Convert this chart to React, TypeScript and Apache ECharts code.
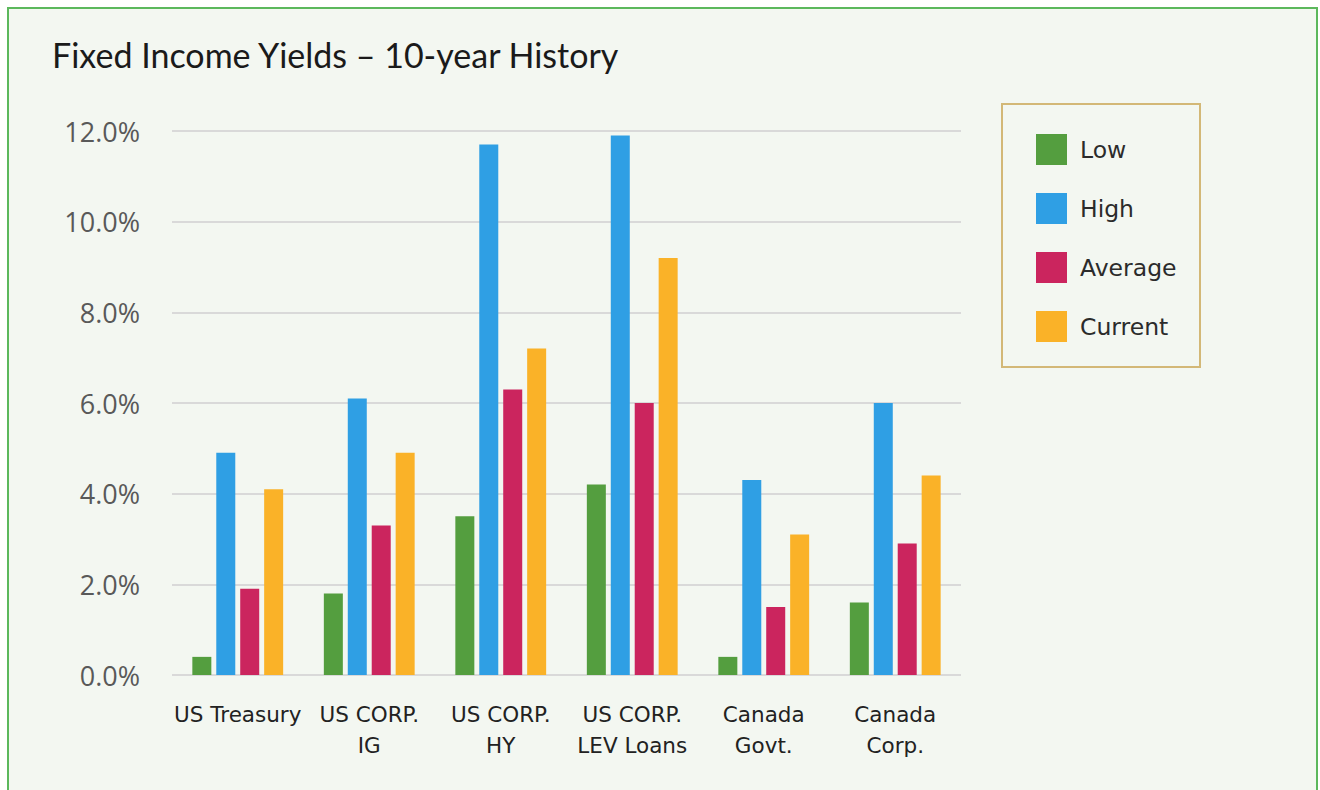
import React, { useEffect, useRef } from "react";
import * as echarts from "echarts";

const categories = [
  "US Treasury",
  "US CORP.\nIG",
  "US CORP.\nHY",
  "US CORP.\nLEV Loans",
  "Canada\nGovt.",
  "Canada\nCorp.",
];
const seriesNames = ["Low", "High", "Average", "Current"];
const lowValues = [0.4, 1.8, 3.5, 4.2, 0.4, 1.6];
const highValues = [4.9, 6.1, 11.7, 11.9, 4.3, 6.0];
const averageValues = [1.9, 3.3, 6.3, 6.0, 1.5, 2.9];
const currentValues = [4.1, 4.9, 7.2, 9.2, 3.1, 4.4];
const yTicks = { min: 0, max: 12, interval: 2 };
const colors = ["#549e3f", "#2f9fe4", "#cb255e", "#fab228"];
const titleText = "Fixed Income Yields \u2013 10-year History";

export default function App() {
  const ref = useRef<HTMLDivElement>(null);
  useEffect(() => {
    if (!ref.current) return;
    const chart = echarts.init(ref.current, undefined, { renderer: "svg" });
    const values = [lowValues, highValues, averageValues, currentValues];
    chart.setOption({
      animation: false,
      backgroundColor: "transparent",
      title: {
        text: titleText,
        left: 47,
        top: 32,
        textStyle: {
          fontFamily: "Lato",
          fontSize: 34,
          fontWeight: "normal",
          color: "#1a1a1a",
        },
      },
      legend: {
        orient: "vertical",
        left: 1031,
        top: 129,
        itemWidth: 31,
        itemHeight: 31,
        itemGap: 28,
        icon: "rect",
        data: seriesNames,
        textStyle: {
          fontFamily: "DejaVu Sans",
          fontSize: 23.5,
          color: "#2b2b2b",
          padding: [0, 0, 0, 8],
        },
      },
      graphic: [
        {
          type: "rect",
          shape: { x: 1002, y: 104, width: 198, height: 263 },
          style: { fill: "none", stroke: "#d3b877", lineWidth: 2 },
          z: 0,
        },
      ],
      grid: { left: 172, right: 359, top: 131, bottom: 115, containLabel: false },
      xAxis: {
        type: "category",
        data: categories,
        axisLine: { show: false },
        axisTick: { show: false },
        axisLabel: {
          interval: 0,
          margin: 24,
          fontFamily: "DejaVu Sans",
          fontSize: 21.5,
          lineHeight: 31,
          color: "#222222",
        },
      },
      yAxis: {
        type: "value",
        min: yTicks.min,
        max: yTicks.max,
        interval: yTicks.interval,
        axisLine: { show: false },
        axisTick: { show: false },
        splitLine: { lineStyle: { color: "#d9d9d9", width: 2 } },
        axisLabel: {
          margin: 32,
          fontFamily: "Open Sans",
          fontSize: 27,
          color: "#595959",
          formatter: (v: number) => v.toFixed(1) + "%",
        },
      },
      series: seriesNames.map((name, i) => ({
        name,
        type: "bar",
        data: values[i],
        barWidth: 19,
        barGap: "26%",
        itemStyle: { color: colors[i] },
      })),
    });
    return () => chart.dispose();
  }, []);
  return (
    <>
      <div
        style={{
          position: "fixed",
          left: 7,
          top: 7,
          width: 1311,
          height: 800,
          border: "2px solid #5cb85c",
          background: "#f3f7f1",
          boxSizing: "border-box",
        }}
      />
      <div
        ref={ref}
        style={{ position: "fixed", left: 0, top: 0, width: 1320, height: 790 }}
      />
    </>
  );
}
